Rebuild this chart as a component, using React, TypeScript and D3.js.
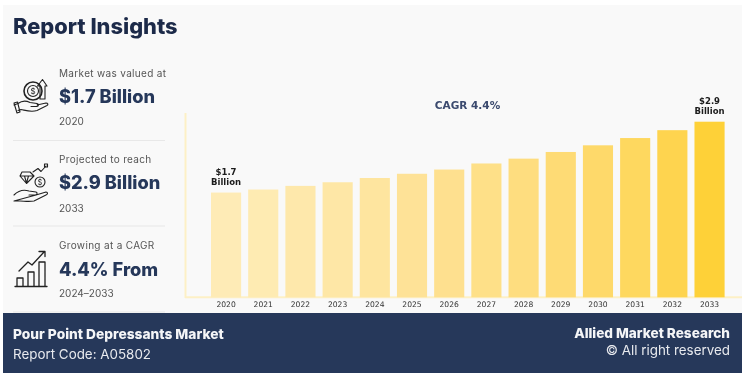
import React from "react";
import * as d3 from "d3";

const years = ["2020","2021","2022","2023","2024","2025","2026","2027","2028","2029","2030","2031","2032","2033"];
const values = [1.73,1.78,1.84,1.90,1.97,2.04,2.11,2.21,2.29,2.40,2.51,2.63,2.76,2.90];
const barColors = ["#feebb6","#feebb2","#fee8ab","#fee7a6","#fee59f","#fee297","#fee08f","#fee088","#fedd7f","#fedb74","#fed96a","#fed85f","#fed44f","#fed138"];
const insightLabels = ["Market was valued at","Projected to reach","Growing at a CAGR"];
const insightValues = ["$1.7 Billion","$2.9 Billion","4.4% From"];
const insightYears = ["2020","2033","2024–2033"];

const sans = "Inter, 'Noto Sans', sans-serif";
const dejavu = "'DejaVu Sans', sans-serif";
const navy = "#25375a";

const x = d3.scaleBand<string>().domain(years).range([192.4, 743.2]).paddingInner(0.19).paddingOuter(0.5);
const y = d3.scaleLinear().domain([0, 2.9]).range([297.3, 121.7]);

function IconHand() {
  return (
    <g fill="none" stroke="#222" strokeWidth={1.1} strokeLinejoin="round" strokeLinecap="round">
      <circle cx={33} cy={91} r={9} strokeWidth={1.6} />
      <circle cx={33} cy={91} r={5.5} />
      <path d="M40 99V86h-2.5l5-6.500 4.500 6.500H45V99z" />
      <path d="M14 105l4-1.500c4-3 8-3 12-1l7 1c2 .5 2 2.500 0 3l-6 0M37 105l9-2c2 0 2.500 1.500 1 2.500l-10 5c-6 2-11 0-16-1l-3 1" />
      <path d="M14 103l3 10 3-1-2.500-10z" />
      <text x={33} y={94} fontSize={8} textAnchor="middle" stroke="none" fill="#222" fontFamily={sans}>$</text>
    </g>
  );
}

function IconDiamond() {
  return (
    <g fill="none" stroke="#222" strokeWidth={1.1} strokeLinejoin="round" strokeLinecap="round">
      <path d="M22 172h8l4 4-7.500 7.500L20 176zM20 176h14M24.500 176l2 7 2-7" />
      <circle cx={40} cy={182} r={5} />
      <text x={40} y={185} fontSize={7} textAnchor="middle" stroke="none" fill="#222" fontFamily={sans}>$</text>
      <path d="M33 172l5-3.500 3 3 5-5.500" />
      <rect x={44.500} y={164} width={3} height={3} />
      <path d="M14 195c4-4 9-6 15-4l7 1c2 1 1 3-1 3h-6M36 195l10-3c2 0 2 2 0 3l-12 6c-6 1-10 0-14 0h-6z" />
    </g>
  );
}

function IconGrowth() {
  return (
    <g fill="none" stroke="#222" strokeWidth={1.3} strokeLinejoin="round" strokeLinecap="round">
      <path d="M15 286.500H47" />
      <path d="M17 286v-8h6v8M28 286v-14h6v14M39 286v-24h6v24" />
      <path d="M19 271l9-9 4 3 12-13M39 251.500h6v5" />
    </g>
  );
}

export default function App() {
  const axisColor = "#fdf0c6";
  const rows = [0, 1, 2];
  const labelY = [77, 163, 249];
  const valueY = [103, 189, 276];
  const yearY = [125, 212, 297];
  const dividerY = [140.5, 226, 312];
  return (
    <svg width={742} height={376} viewBox="0 0 742 376" style={{ position: "absolute", left: 0, top: 0, display: "block" }}>
      <defs>
        <filter id="soft" x="0" y="0" width="100%" height="100%">
          <feGaussianBlur stdDeviation={0.35} />
        </filter>
      </defs>
      <rect width={742} height={376} fill="#ffffff" />
      <g filter="url(#soft)">
      <rect x={3} y={5} width={739} height={309} fill="#f9f9f9" />
      <text x={13} y={34} fontFamily={sans} fontWeight={800} fontSize={21.8} fill="#1d2a49">Report Insights</text>

      <IconHand />
      <IconDiamond />
      <IconGrowth />

      {rows.map((i) => (
        <g key={i}>
          <text x={59} y={labelY[i]} fontFamily={sans} fontSize={10} letterSpacing={0.33} fill="#555">{insightLabels[i]}</text>
          <text x={59} y={valueY[i]} fontFamily={sans} fontWeight={800} fontSize={18.2} fill={navy}>{insightValues[i]}</text>
          <text x={59} y={yearY[i]} fontFamily={sans} fontSize={10} fill="#555">{insightYears[i]}</text>
          <line x1={13} x2={165} y1={dividerY[i]} y2={dividerY[i]} stroke="#e8e8e8" strokeWidth={1.2} />
        </g>
      ))}

      <line x1={185.500} x2={185.500} y1={113} y2={298} stroke={axisColor} strokeWidth={2} />
      <line x1={185} x2={742} y1={297.300} y2={297.300} stroke={axisColor} strokeWidth={2} />

      {years.map((yr, i) => (
        <g key={yr}>
          <rect x={x(yr)} y={y(values[i])} width={x.bandwidth()} height={y(0) - y(values[i])} fill={barColors[i]} />
          <text x={x(yr)! + x.bandwidth() / 2} y={306.500} textAnchor="middle" fontFamily={dejavu} fontSize={7.6} fill="#333">{yr}</text>
        </g>
      ))}

      <text x={x("2020")! + x.bandwidth() / 2} y={175} textAnchor="middle" fontFamily={dejavu} fontWeight={700} fontSize={8.5} fill="#1a1a1a">$1.7</text>
      <text x={x("2020")! + x.bandwidth() / 2} y={185} textAnchor="middle" fontFamily={dejavu} fontWeight={700} fontSize={8.5} fill="#1a1a1a">Billion</text>
      <text x={x("2033")! + x.bandwidth() / 2} y={104} textAnchor="middle" fontFamily={dejavu} fontWeight={700} fontSize={8.5} fill="#1a1a1a">$2.9</text>
      <text x={x("2033")! + x.bandwidth() / 2} y={114} textAnchor="middle" fontFamily={dejavu} fontWeight={700} fontSize={8.5} fill="#1a1a1a">Billion</text>

      <text x={467.500} y={108.500} textAnchor="middle" fontFamily={dejavu} fontWeight={700} fontSize={10.500} fill="#3a4a6e">CAGR 4.4%</text>

      <rect x={3} y={313} width={739} height={60} fill={navy} />
      <text x={13} y={339} fontFamily={sans} fontWeight={800} fontSize={13.750} fill="#f4f5f7">Pour Point Depressants Market</text>
      <text x={13} y={359} fontFamily={sans} fontSize={13.400} fill="#e8eaee">Report Code: A05802</text>
      <text x={730} y={338} textAnchor="end" fontFamily={sans} fontWeight={800} fontSize={13.600} fill="#f4f5f7">Allied Market Research</text>
      <text x={730} y={355} textAnchor="end" fontFamily={sans} fontSize={13.400} fill="#e8eaee">© All right reserved</text>
      </g>
    </svg>
  );
}
